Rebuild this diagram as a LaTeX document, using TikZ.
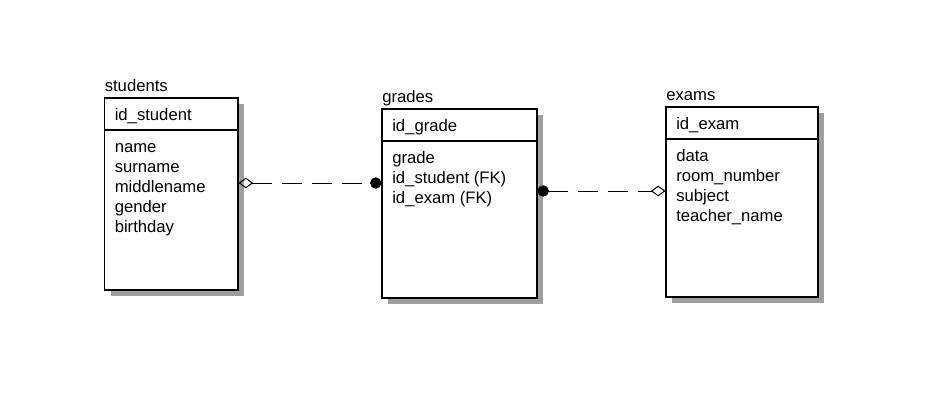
\documentclass[tikz,border=0pt]{standalone}
\usepackage{fontspec}
\setmainfont{Liberation Sans}
\usetikzlibrary{arrows.meta,fit}
\tikzset{
  tablebox/.style={draw,fill=white,line width=0.8pt,inner sep=0pt},
  tableshade/.style={fill=black!38},
  field/.style={anchor=base west,inner sep=0pt,font=\fontsize{12.5}{15}\selectfont},
  link/.style={line width=0.75pt,dash pattern=on 15pt off 7.5pt},
  opentip/.tip={Diamond[open,length=11pt,width=8pt]},
  dottip/.tip={Circle[length=8.5pt]},
}
\begin{document}
\begin{tikzpicture}[x=0.75pt,y=-0.75pt]
\useasboundingbox (0,0) rectangle (946,407);
% tables
\foreach \n/\xa/\ya/\xb/\yb/\key/\rows in {
  students/104.5/98/238/290/id\_student/{name,surname,middlename,gender,birthday},
  grades/382/109/537/298/id\_grade/{grade,id\_student (FK),id\_exam (FK)},
  exams/666/107/818/297/id\_exam/{data,room\_number,subject,teacher\_name}}{
  \fill[tableshade] (\xa+6,\ya+6) rectangle (\xb+6,\yb+6);
  \node[tablebox, fit={(\xa,\ya) (\xb,\yb)}] (\n) {};
  \draw[tablebox] (\xa,\ya+32) -- (\xb,\ya+32);
  \node[field] (\n-title) at (\xa,\ya-7) {\n};
  \node[field] (\n-key) at (\xa+10,\ya+22) {\key};
  \foreach \r [count=\k] in \rows
    \node[field] (\n-\k) at (\xa+10,\ya+34+20*\k) {\r};
}
% relations
\draw[link, opentip-dottip] (students.east |- 0,183) -- (grades.west |- 0,183);
\draw[link, dottip-opentip] (grades.east |- 0,191) -- (exams.west |- 0,191);
\end{tikzpicture}
\end{document}
